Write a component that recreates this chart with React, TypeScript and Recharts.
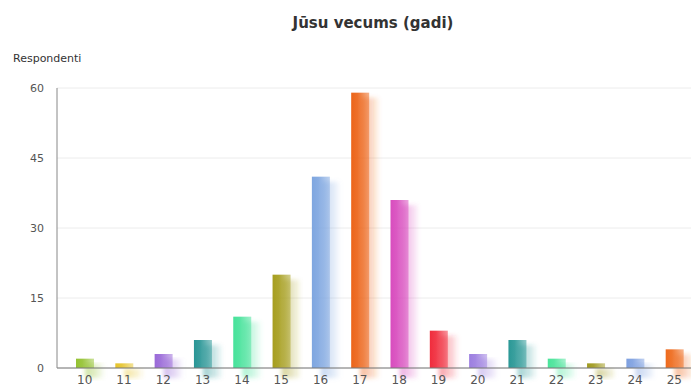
import React from 'react';
import { BarChart, Bar, XAxis, YAxis, CartesianGrid } from 'recharts';

const ages = ['10', '11', '12', '13', '14', '15', '16', '17', '18', '19', '20', '21', '22', '23', '24', '25'];
const respondents = [2, 1, 3, 6, 11, 20, 41, 59, 36, 8, 3, 6, 2, 1, 2, 4];
const yTicks = [0, 15, 30, 45, 60];

// one colour per bar, as in the original palette
const COLORS = [
  '#94c232', '#e6c42c', '#9a6ad8', '#2a9696', '#46e29a', '#a69e1e', '#7ea6e0', '#ec6418',
  '#d84cbe', '#f02c3c', '#9c7ee0', '#2a9896', '#4ae49a', '#a09a1e', '#7ea0e0', '#ee6a1c',
];

const TEXT = '#333';
const FONT = '"DejaVu Sans", Tahoma, sans-serif';

const data = ages.map((age, i) => ({ age, value: respondents[i] }));

const GlossyBar = (props: any) => {
  const { x, y, width, height, index } = props;
  if (!height || height <= 0) return null;
  const id = `bar-g-${index}`;
  return (
    <g>
      <rect
        x={x + width * 0.5}
        y={y + 5}
        width={width * 1.05}
        height={height + 5}
        fill={`url(#${id}-s)`}
        filter="url(#soft)"
      />
      <rect x={x} y={y} width={width} height={height} fill={`url(#${id})`} />
    </g>
  );
};

const App: React.FC = () => {
  return (
    <div style={{ position: 'absolute', left: 0, top: 0, width: 691, height: 390, overflow: 'hidden', fontFamily: FONT }}>
      <div style={{ position: 'absolute', left: 0, width: 746, top: 14, textAlign: 'center', fontSize: 15, fontWeight: 'bold', color: TEXT }}>
        Jūsu vecums (gadi)
      </div>
      <div style={{ position: 'absolute', left: 13, top: 52, fontSize: 11, color: TEXT }}>Respondenti</div>
      <BarChart width={694} height={390} data={data} margin={{ top: 88, right: 0, left: 0, bottom: 0 }}>
        <defs>
          <filter id="soft" x="-50%" y="-10%" width="200%" height="130%">
            <feGaussianBlur stdDeviation="2" />
          </filter>
          {COLORS.map((c, i) => (
            <React.Fragment key={i}>
              <linearGradient id={`bar-g-${i}-s`} x1="0" y1="0" x2="1" y2="0">
                <stop offset="0%" stopColor={c} stopOpacity={0.45} />
                <stop offset="60%" stopColor={c} stopOpacity={0.25} />
                <stop offset="100%" stopColor={c} stopOpacity={0.05} />
              </linearGradient>
              <linearGradient id={`bar-g-${i}`} x1="0" y1="0" x2="1" y2="0">
                <stop offset="0%" stopColor={c} />
                <stop offset="35%" stopColor={c} stopOpacity={0.92} />
                <stop offset="75%" stopColor={c} stopOpacity={0.65} />
                <stop offset="100%" stopColor={c} stopOpacity={0.5} />
              </linearGradient>
            </React.Fragment>
          ))}
        </defs>
        <CartesianGrid vertical={false} stroke="#ececec" />
        <XAxis
          dataKey="age"
          height={22}
          padding={{ left: 8, right: 0 }}
          tickLine={false}
          tickSize={0}
          tickMargin={7}
          axisLine={{ stroke: '#777' }}
          tick={{ fill: '#555', fontSize: 12, fontFamily: FONT }}
          interval={0}
        />
        <YAxis
          width={57}
          domain={[0, 60]}
          ticks={yTicks}
          tickLine={false}
          tickSize={0}
          tickMargin={13}
          axisLine={{ stroke: '#888' }}
          tick={{ fill: '#555', fontSize: 11, fontFamily: FONT }}
        />
        <Bar dataKey="value" barSize={18} shape={<GlossyBar />} isAnimationActive={false} />
      </BarChart>
    </div>
  );
};

export default App;
